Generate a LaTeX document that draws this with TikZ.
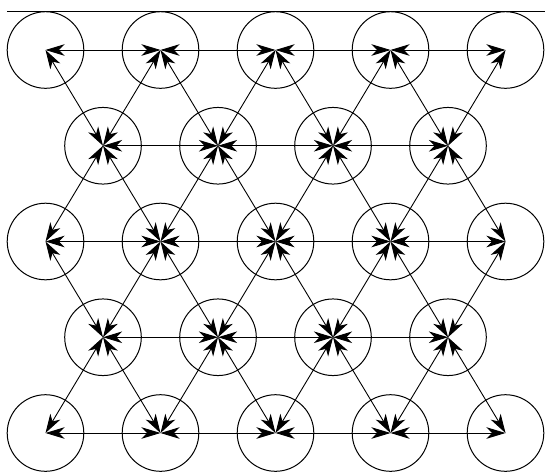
\documentclass[tikz,border=0pt]{standalone}
\usetikzlibrary{arrows.meta}
\begin{document}
\begin{tikzpicture}[x=1pt,y=-1pt,
  cell/.style={draw, circle, minimum size=76.6pt, inner sep=0pt, line width=1pt},
  link/.style={{Stealth[length=19pt,width=11.5pt,inset=5.5pt]}-{Stealth[length=19pt,width=11.5pt,inset=5.5pt]}, line width=0.9pt}]
\useasboundingbox (0,0) rectangle (545,472);
\foreach \r in {1,3,5} \foreach \i in {1,...,5}
  \node[cell] (n\r-\i) at ({45.5+115*(\i-1)},{50+95.75*(\r-1)}) {};
\foreach \r in {2,4} \foreach \i in {1,...,4}
  \node[cell] (n\r-\i) at ({103+115*(\i-1)},{50+95.75*(\r-1)}) {};
\coordinate (tl) at (7,11);
\coordinate (tr) at (545,11);
\draw[line width=1pt] (tl) -- (tr);
\foreach \r in {1,3,5} \foreach \i/\j in {1/2,2/3,3/4,4/5}
  \draw[link] (n\r-\i.center) -- (n\r-\j.center);
\foreach \r in {2,4} \foreach \i/\j in {1/2,2/3,3/4}
  \draw[link] (n\r-\i.center) -- (n\r-\j.center);
\foreach \r/\p/\q in {2/1/3,4/3/5} \foreach \i/\j in {1/2,2/3,3/4,4/5} {
  \draw[link] (n\r-\i.center) -- (n\p-\i.center);
  \draw[link] (n\r-\i.center) -- (n\p-\j.center);
  \draw[link] (n\r-\i.center) -- (n\q-\i.center);
  \draw[link] (n\r-\i.center) -- (n\q-\j.center);
}
\end{tikzpicture}
\end{document}
